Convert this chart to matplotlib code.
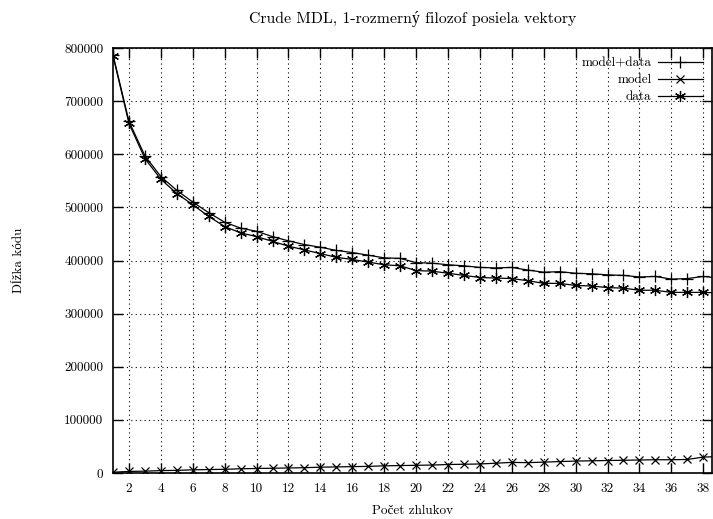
import matplotlib
matplotlib.use("Agg")
import matplotlib.pyplot as plt

# pocet zhlukov 1..39 (posledny bod je uz za okrajom grafu)
zhluky = list(range(1, 40))

model_data = [787000, 662000, 597000, 558000, 532000, 510000, 490000, 472000,
              461000, 455000, 445000, 437000, 430000, 425000, 419000, 415000,
              410000, 405000, 404000, 396000, 395000, 392000, 390000, 387000,
              386000, 387000, 382000, 378000, 379000, 376000, 375000, 373000,
              372000, 369000, 370000, 365000, 366000, 370000, 367000]

model = [1500, 3000, 3500, 4500, 5000, 6000, 6500, 7000, 8000, 8500,
         9000, 9500, 10000, 11000, 11500, 12000, 12500, 13500, 14000, 14500,
         15000, 16000, 16500, 17000, 18500, 20000, 19500, 20500, 21500, 22500,
         23000, 23500, 24000, 24500, 25000, 25000, 25500, 30000, 31000]

data = [785500, 658000, 592000, 553000, 526000, 505000, 483000, 464000,
        452000, 445000, 436000, 427000, 420000, 413000, 406000, 402000,
        397000, 392000, 390000, 381000, 380000, 376000, 372000, 368000,
        367000, 366000, 362000, 357000, 357000, 353000, 352000, 349000,
        348000, 344000, 344000, 340000, 340000, 340000, 339000]

xticks = list(range(2, 39, 2))
yticks = list(range(0, 800001, 100000))

plt.rcParams['font.family'] = ['cmr10', 'Liberation Serif']
plt.rcParams['axes.formatter.use_mathtext'] = True
plt.rcParams['font.size'] = 9.5

fig = plt.figure(figsize=(7.13, 5.19), dpi=100)
ax = fig.add_axes([0.1585, 0.0886, 0.8401, 0.8189])

ax.plot(zhluky, model_data, color='black', lw=0.9, marker='+', ms=8, mew=0.9,
        label='model+data')
ax.plot(zhluky, model, color='black', lw=0.9, marker='x', ms=6, mew=0.9,
        label='model')
ax.plot(zhluky, data, color='black', lw=0.9, marker=(6, 2, 0), ms=8, mew=0.9,
        label='data')

ax.set_xlim(1, 38.55)
ax.set_ylim(0, 800000)
ax.set_xticks(xticks)
ax.set_xticklabels([str(t) for t in xticks])
ax.set_yticks(yticks)
ax.set_yticklabels([str(t) for t in yticks])

ax.tick_params(direction='in', length=7, width=1, top=True, right=True)
ax.tick_params(axis='x', pad=7)
ax.tick_params(axis='y', pad=7)
ax.grid(True, color='black', linestyle=(0, (1, 3)), lw=0.8)
for s in ax.spines.values():
    s.set_linewidth(1.2)

ax.set_title('Crude MDL, 1-rozmerný filozof posiela vektory', pad=18)
ax.set_xlabel('Počet zhlukov', labelpad=7)
ax.set_ylabel('Dĺžka kódu', labelpad=28)

ax.legend(loc='upper right', frameon=False, markerfirst=False,
          handlelength=3.4, labelspacing=0.35, borderaxespad=0.3,
          handletextpad=0.5)

fig.savefig('out.png', dpi=100)
